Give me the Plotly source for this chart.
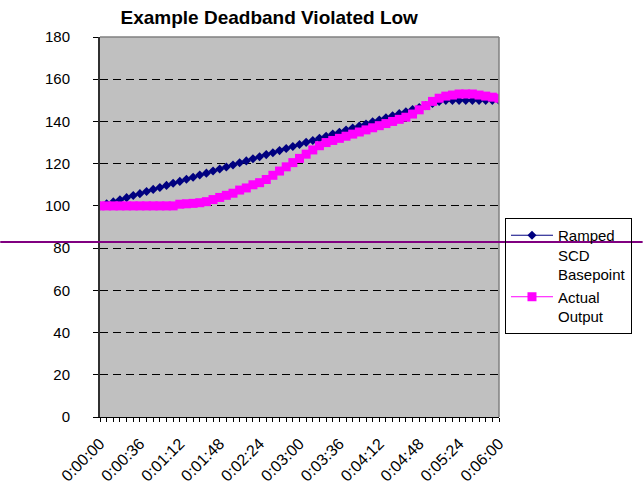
import plotly.graph_objects as go

# Sample times: one reading every 6 seconds from 0:00:00 to 0:06:00
elapsed_s = list(range(0, 361, 6))

# Tick labels shown every 36 seconds
tick_labels = ["0:00:00", "0:00:36", "0:01:12", "0:01:48", "0:02:24", "0:03:00",
               "0:03:36", "0:04:12", "0:04:48", "0:05:24", "0:06:00"]

# Ramped SCD basepoint (MW)
ramped_scd = [100.0, 101.0, 101.9, 102.9, 103.9, 104.9, 105.8, 106.8, 107.8, 108.7,
              109.7, 110.7, 111.6, 112.6, 113.6, 114.6, 115.5, 116.5, 117.5, 118.4,
              119.4, 120.4, 121.3, 122.3, 123.3, 124.3, 125.2, 126.2, 127.2, 128.1,
              129.1, 130.1, 131.0, 132.0, 133.0, 134.0, 134.9, 135.9, 136.9, 137.8,
              138.8, 139.8, 140.7, 141.7, 142.7, 143.7, 144.6, 145.6, 146.6, 147.5,
              148.5, 149.5, 150.0, 150.0, 150.0, 150.0, 150.0, 150.0, 150.0, 150.0,
              150.0]

# Actual unit output (MW)
actual_output = [100.0, 100.0, 100.0, 100.0, 100.0, 100.0, 100.0, 100.0, 100.0, 100.0,
                 100.0, 100.0, 100.8, 101.0, 101.2, 101.5, 102.0, 103.0, 104.0, 105.0,
                 106.0, 107.5, 108.5, 110.0, 111.0, 112.5, 114.5, 116.5, 118.5, 120.5,
                 122.5, 124.5, 126.5, 128.5, 130.0, 131.0, 132.0, 133.0, 134.0, 135.0,
                 136.0, 137.0, 138.0, 139.0, 140.0, 141.0, 142.0, 143.5, 145.5, 147.5,
                 149.5, 151.0, 152.0, 152.5, 153.0, 153.0, 153.0, 152.5, 152.0, 151.5,
                 151.0]

all_ticktext = [tick_labels[i // 6] if i % 6 == 0 else "" for i in range(len(elapsed_s))]

FONT = "Arial, Liberation Sans, sans-serif"

fig = go.Figure()
fig.add_trace(go.Scatter(
    x=elapsed_s, y=ramped_scd, mode="lines+markers",
    name="Ramped<br>SCD<br>Basepoint",
    line=dict(color="#000080", width=1),
    marker=dict(symbol="diamond", size=7, color="#000080"),
))
fig.add_trace(go.Scatter(
    x=elapsed_s, y=actual_output, mode="lines+markers",
    name="Actual<br>Output",
    line=dict(color="#FF00FF", width=1),
    marker=dict(symbol="square", size=9, color="#FF00FF"),
))

fig.update_layout(
    width=644, height=495,
    margin=dict(l=100, r=142, t=37, b=78),
    paper_bgcolor="white",
    plot_bgcolor="#C0C0C0",
    font=dict(family=FONT, size=14, color="black"),
    title=dict(text="<b>Example Deadband Violated Low</b>",
               font=dict(family=FONT, size=19, color="black"),
               x=0.418, xref="container", xanchor="center",
               y=0.964, yref="container", yanchor="middle"),
    showlegend=True,
    legend=dict(x=1.015, y=0.5237, xanchor="left", yanchor="top",
                bordercolor="black", borderwidth=1,
                bgcolor="rgba(0,0,0,0)",
                font=dict(family=FONT, size=15, color="black"),
                valign="top", itemwidth=42,
                entrywidth=140, entrywidthmode="pixels"),
    xaxis=dict(
        range=[0, 360], tickmode="array",
        tickvals=elapsed_s, ticktext=all_ticktext,
        tickangle=-45, ticks="outside", ticklen=4, tickcolor="black",
        showline=True, linecolor="black", linewidth=1,
        showgrid=False, zeroline=False, ticklabelstandoff=6,
        automargin=False,
        tickfont=dict(family=FONT, size=16, color="black"),
    ),
    xaxis2=dict(
        range=[0, 360], overlaying="x", anchor="y", side="bottom",
        tickmode="array", tickvals=elapsed_s, ticks="inside", ticklen=4,
        tickcolor="black", showticklabels=False, showline=False,
        showgrid=False, zeroline=False, automargin=False,
    ),
    yaxis=dict(
        range=[0, 180], dtick=20, tick0=0,
        ticks="outside", ticklen=5, tickcolor="black",
        showline=True, linecolor="#303030", linewidth=2,
        showgrid=True, gridcolor="black", gridwidth=1, griddash="8px,5px",
        zeroline=False, ticklabelstandoff=20, automargin=False,
        tickfont=dict(family=FONT, size=15, color="black"),
    ),
)

# Plot-area frame on the top and right edges
fig.add_shape(type="line", xref="paper", yref="paper", x0=0, x1=1, y0=1, y1=1,
              line=dict(color="#808080", width=1.5), layer="above")
fig.add_shape(type="line", xref="paper", yref="paper", x0=1, x1=1, y0=0, y1=1,
              line=dict(color="#808080", width=1.5), layer="above")

# Horizontal rule drawn across the whole page
fig.add_shape(type="line", xref="paper", yref="paper",
              x0=-0.25, x1=1.36, y0=0.4605, y1=0.4605,
              line=dict(color="#800080", width=2), layer="above")

fig.write_html("out.html")
